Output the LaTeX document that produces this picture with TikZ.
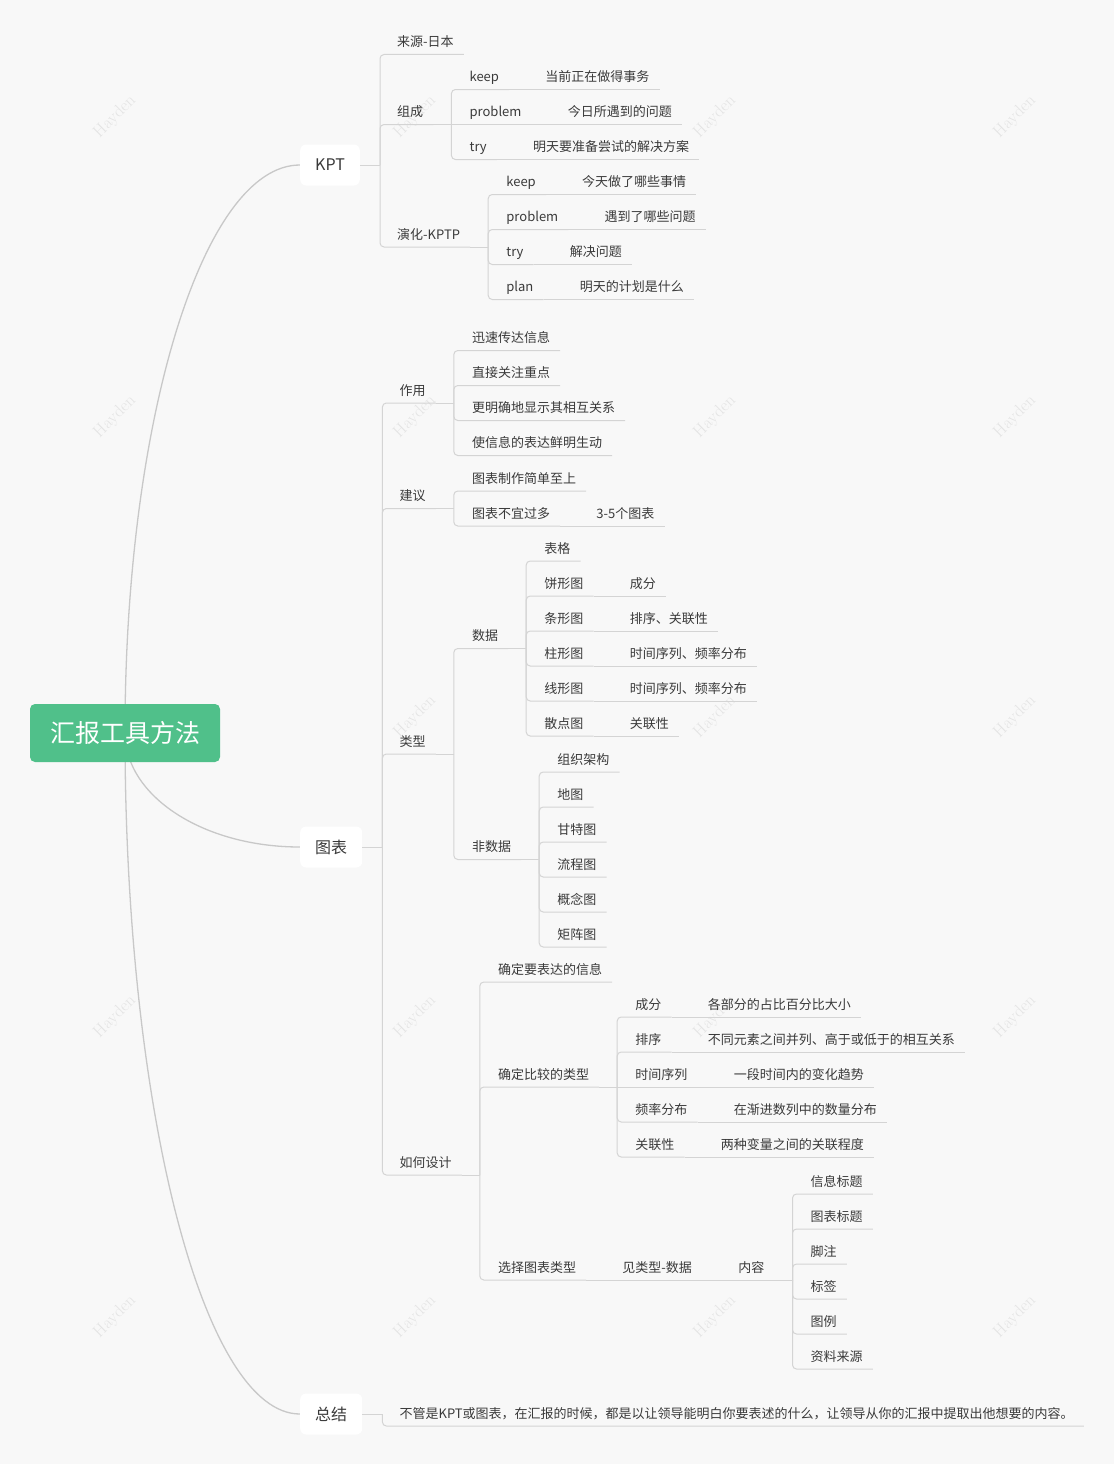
\documentclass[tikz,border=0pt]{standalone}
\usepackage{fontspec}
\newfontfamily\cjkfont{Noto Sans CJK SC}
\usetikzlibrary{calc,backgrounds}

\definecolor{paper}{HTML}{F8F8F8}
\definecolor{rootgreen}{HTML}{50C08A}
\definecolor{branchgray}{HTML}{D4D4D4}
\definecolor{curvegray}{HTML}{C8C8C8}
\definecolor{labelgray}{HTML}{3A3A3A}
\definecolor{markgray}{HTML}{E4E4E4}

\tikzset{
    rootbox/.style={fill=rootgreen, text=white, rounded corners=5pt,
        minimum width=190pt, minimum height=58pt,
        font=\cjkfont\fontsize{25}{25}\selectfont},
    mainbox/.style={fill=white, rounded corners=6pt, anchor=west,
        inner xsep=15pt, minimum height=41pt, text=labelgray,
        font=\cjkfont\fontsize{16}{16}\selectfont},
    topic/.style={anchor=south west, inner sep=0pt, text depth=7.5pt,
        text=labelgray, font=\cjkfont\fontsize{13}{13}\selectfont},
    branchline/.style={draw=branchgray, line width=1pt, rounded corners=4pt},
    rootline/.style={draw=curvegray, line width=1.3pt},
    wmark/.style={rotate=45, text=markgray, font=\fontsize{17}{17}\selectfont}
}

% parent end -> bar, bar -> child, straight continuation, box -> child
\newcommand{\topicstub}[1]{\draw[branchline] ([xshift=10pt]#1.south east) -- ++(18,0);}
\newcommand{\topiclink}[2]{\draw[branchline] ([xshift=28pt]#1.south east) |- ([xshift=10pt]#2.south east);}
\newcommand{\topicline}[2]{\draw[branchline] ([xshift=10pt]#1.south east) -- ([xshift=10pt]#2.south east);}
\newcommand{\boxlink}[2]{\draw[branchline] ([xshift=20pt]#1.east) |- ([xshift=10pt]#2.south east);}

\begin{document}
\begin{tikzpicture}[x=1pt, y=-1pt]
\useasboundingbox (0,0) rectangle (1114,1464);

\node[rootbox] (root) at (125,733) {汇报工具方法};
\node[mainbox] (kpt) at (300,165) {KPT};
\node[mainbox] (chart) at (300,847) {图表};
\node[mainbox] (sum) at (300,1414) {总结};

% KPT
\node[topic] (src) at ($(kpt.east)+(37,-110.5)$) {来源-日本};
\node[topic] (zc) at ($(kpt.east)+(37,-40.5)$) {组成};
\node[topic] (zc-keep) at ($(zc.south east)+(46,-35)$) {keep};
\node[topic] (zc-keep-a) at ($(zc-keep.south east)+(46,0)$) {当前正在做得事务};
\node[topic] (zc-prob) at ($(zc.south east)+(46,0)$) {problem};
\node[topic] (zc-prob-a) at ($(zc-prob.south east)+(46,0)$) {今日所遇到的问题};
\node[topic] (zc-try) at ($(zc.south east)+(46,35)$) {try};
\node[topic] (zc-try-a) at ($(zc-try.south east)+(46,0)$) {明天要准备尝试的解决方案};
\node[topic] (yh) at ($(kpt.east)+(37,82)$) {演化-KPTP};
\node[topic] (yh-keep) at ($(yh.south east)+(46,-52.5)$) {keep};
\node[topic] (yh-keep-a) at ($(yh-keep.south east)+(46,0)$) {今天做了哪些事情};
\node[topic] (yh-prob) at ($(yh.south east)+(46,-17.5)$) {problem};
\node[topic] (yh-prob-a) at ($(yh-prob.south east)+(46,0)$) {遇到了哪些问题};
\node[topic] (yh-try) at ($(yh.south east)+(46,17.5)$) {try};
\node[topic] (yh-try-a) at ($(yh-try.south east)+(46,0)$) {解决问题};
\node[topic] (yh-plan) at ($(yh.south east)+(46,52.5)$) {plan};
\node[topic] (yh-plan-a) at ($(yh-plan.south east)+(46,0)$) {明天的计划是什么};

\draw[branchline] (kpt.east) -- ++(20,0);
\foreach \c in {src,zc,yh} {\boxlink{kpt}{\c}}
\topicstub{zc}
\foreach \c in {zc-keep,zc-try} {\topiclink{zc}{\c}}
\topicline{zc}{zc-prob}
\topicstub{yh}
\foreach \c in {yh-keep,yh-prob,yh-try,yh-plan} {\topiclink{yh}{\c}}
\foreach \c in {zc-keep,zc-prob,zc-try,yh-keep,yh-prob,yh-try,yh-plan} {\topicline{\c}{\c-a}}

% 图表
\node[topic] (zy) at ($(chart.east)+(37,-444)$) {作用};
\node[topic] (zy-1) at ($(zy.south east)+(46,-52.5)$) {迅速传达信息};
\node[topic] (zy-2) at ($(zy.south east)+(46,-17.5)$) {直接关注重点};
\node[topic] (zy-3) at ($(zy.south east)+(46,17.5)$) {更明确地显示其相互关系};
\node[topic] (zy-4) at ($(zy.south east)+(46,52.5)$) {使信息的表达鲜明生动};
\node[topic] (jy) at ($(chart.east)+(37,-338.5)$) {建议};
\node[topic] (jy-1) at ($(jy.south east)+(46,-17.5)$) {图表制作简单至上};
\node[topic] (jy-2) at ($(jy.south east)+(46,17.5)$) {图表不宜过多};
\node[topic] (jy-2-a) at ($(jy-2.south east)+(46,0)$) {3-5个图表};
\node[topic] (lx) at ($(chart.east)+(37,-93)$) {类型};
\node[topic] (sj) at ($(lx.south east)+(46,-105.5)$) {数据};
\node[topic] (sj-1) at ($(sj.south east)+(46,-87.5)$) {表格};
\node[topic] (sj-2) at ($(sj.south east)+(46,-52.5)$) {饼形图};
\node[topic] (sj-2-a) at ($(sj-2.south east)+(46,0)$) {成分};
\node[topic] (sj-3) at ($(sj.south east)+(46,-17.5)$) {条形图};
\node[topic] (sj-3-a) at ($(sj-3.south east)+(46,0)$) {排序、关联性};
\node[topic] (sj-4) at ($(sj.south east)+(46,17.5)$) {柱形图};
\node[topic] (sj-4-a) at ($(sj-4.south east)+(46,0)$) {时间序列、频率分布};
\node[topic] (sj-5) at ($(sj.south east)+(46,52.5)$) {线形图};
\node[topic] (sj-5-a) at ($(sj-5.south east)+(46,0)$) {时间序列、频率分布};
\node[topic] (sj-6) at ($(sj.south east)+(46,87.5)$) {散点图};
\node[topic] (sj-6-a) at ($(sj-6.south east)+(46,0)$) {关联性};
\node[topic] (fsj) at ($(lx.south east)+(46,105.5)$) {非数据};
\node[topic] (fsj-1) at ($(fsj.south east)+(46,-87.5)$) {组织架构};
\node[topic] (fsj-2) at ($(fsj.south east)+(46,-52.5)$) {地图};
\node[topic] (fsj-3) at ($(fsj.south east)+(46,-17.5)$) {甘特图};
\node[topic] (fsj-4) at ($(fsj.south east)+(46,17.5)$) {流程图};
\node[topic] (fsj-5) at ($(fsj.south east)+(46,52.5)$) {概念图};
\node[topic] (fsj-6) at ($(fsj.south east)+(46,87.5)$) {矩阵图};
\node[topic] (sj2) at ($(chart.east)+(37,328)$) {如何设计};
\node[topic] (qd) at ($(sj2.south east)+(46,-193)$) {确定要表达的信息};
\node[topic] (bj) at ($(sj2.south east)+(46,-88)$) {确定比较的类型};
\node[topic] (bj-1) at ($(bj.south east)+(46,-70)$) {成分};
\node[topic] (bj-1-a) at ($(bj-1.south east)+(46,0)$) {各部分的占比百分比大小};
\node[topic] (bj-2) at ($(bj.south east)+(46,-35)$) {排序};
\node[topic] (bj-2-a) at ($(bj-2.south east)+(46,0)$) {不同元素之间并列、高于或低于的相互关系};
\node[topic] (bj-3) at ($(bj.south east)+(46,0)$) {时间序列};
\node[topic] (bj-3-a) at ($(bj-3.south east)+(46,0)$) {一段时间内的变化趋势};
\node[topic] (bj-4) at ($(bj.south east)+(46,35)$) {频率分布};
\node[topic] (bj-4-a) at ($(bj-4.south east)+(46,0)$) {在渐进数列中的数量分布};
\node[topic] (bj-5) at ($(bj.south east)+(46,70)$) {关联性};
\node[topic] (bj-5-a) at ($(bj-5.south east)+(46,0)$) {两种变量之间的关联程度};
\node[topic] (xz) at ($(sj2.south east)+(46,105)$) {选择图表类型};
\node[topic] (xz-a) at ($(xz.south east)+(46,0)$) {见类型-数据};
\node[topic] (nr) at ($(xz-a.south east)+(46,0)$) {内容};
\node[topic] (nr-1) at ($(nr.south east)+(46,-86)$) {信息标题};
\node[topic] (nr-2) at ($(nr.south east)+(46,-51)$) {图表标题};
\node[topic] (nr-3) at ($(nr.south east)+(46,-16)$) {脚注};
\node[topic] (nr-4) at ($(nr.south east)+(46,19)$) {标签};
\node[topic] (nr-5) at ($(nr.south east)+(46,54)$) {图例};
\node[topic] (nr-6) at ($(nr.south east)+(46,89)$) {资料来源};

\draw[branchline] (chart.east) -- ++(20,0);
\foreach \c in {zy,jy,lx,sj2} {\boxlink{chart}{\c}}
\topicstub{zy}
\foreach \c in {zy-1,zy-2,zy-3,zy-4} {\topiclink{zy}{\c}}
\topicstub{jy}
\foreach \c in {jy-1,jy-2} {\topiclink{jy}{\c}}
\topicline{jy-2}{jy-2-a}
\topicstub{lx}
\foreach \c in {sj,fsj} {\topiclink{lx}{\c}}
\topicstub{sj}
\foreach \c in {sj-1,sj-2,sj-3,sj-4,sj-5,sj-6} {\topiclink{sj}{\c}}
\foreach \c in {sj-2,sj-3,sj-4,sj-5,sj-6} {\topicline{\c}{\c-a}}
\topicstub{fsj}
\foreach \c in {fsj-1,fsj-2,fsj-3,fsj-4,fsj-5,fsj-6} {\topiclink{fsj}{\c}}
\topicstub{sj2}
\foreach \c in {qd,bj,xz} {\topiclink{sj2}{\c}}
\topicstub{bj}
\foreach \c in {bj-1,bj-2,bj-4,bj-5} {\topiclink{bj}{\c}}
\topicline{bj}{bj-3}
\foreach \c in {bj-1,bj-2,bj-3,bj-4,bj-5} {\topicline{\c}{\c-a}}
\topicline{xz}{xz-a}
\topicline{xz-a}{nr}
\topicstub{nr}
\foreach \c in {nr-1,nr-2,nr-3,nr-4,nr-5,nr-6} {\topiclink{nr}{\c}}

% 总结
\node[topic] (sum-1) at ($(sum.east)+(37,12)$) {不管是KPT或图表，在汇报的时候，都是以让领导能明白你要表述的什么，让领导从你的汇报中提取出他想要的内容。};
\draw[branchline] (sum.east) -- ++(20,0);
\boxlink{sum}{sum-1}

\begin{scope}[on background layer]
\fill[paper] (0,0) rectangle (1114,1464);
\foreach \i/\j in {115/117,415/117,715/117,1015/117,
                   115/417,415/417,715/417,1015/417,
                   415/717,715/717,1015/717,
                   115/1017,415/1017,715/1017,1015/1017,
                   115/1317,415/1317,715/1317,1015/1317}
    {\node[wmark] (wm-\i-\j) at (\i,\j) {Hayden};}
\draw[rootline] (root.center) .. controls (125,420) and (203,165) .. (kpt.west);
\draw[rootline] (root.center) .. controls (125,796) and (203,847) .. (chart.west);
\draw[rootline] (root.center) .. controls (125,1109) and (203,1414) .. (sum.west);
\end{scope}
\end{tikzpicture}
\end{document}
